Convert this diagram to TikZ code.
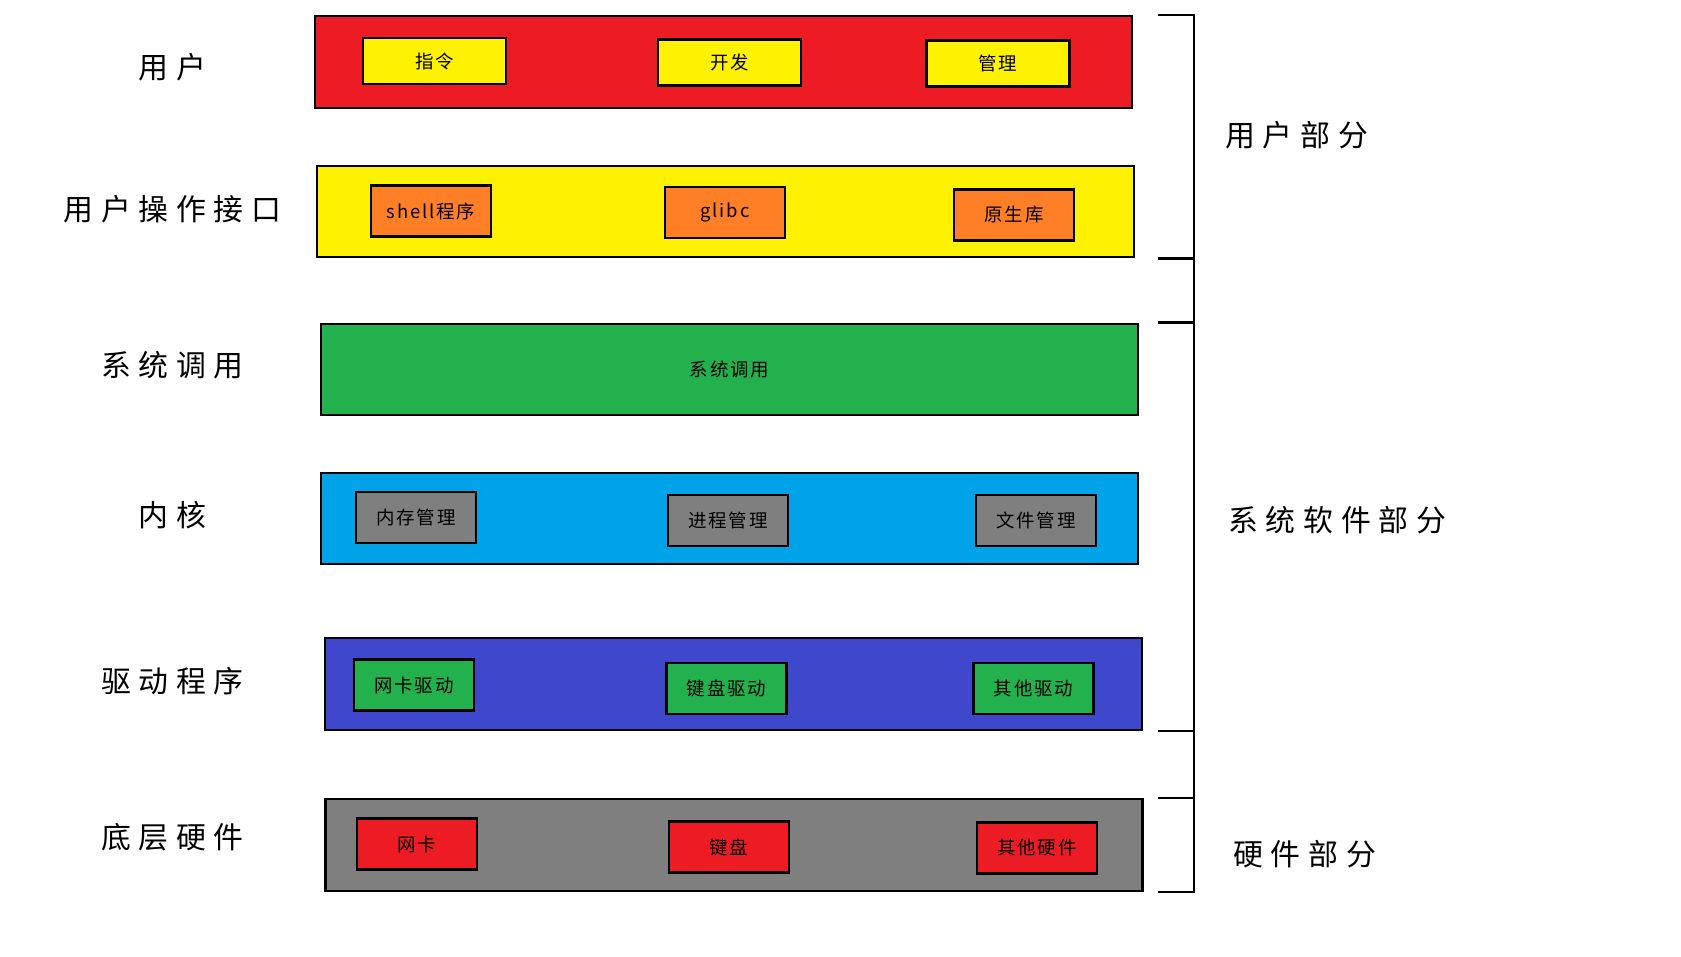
\documentclass[tikz,border=0pt]{standalone}
\usepackage{fontspec}
\setmainfont{Noto Sans CJK SC}
\newfontfamily\bigfont[LetterSpace=26]{Noto Sans CJK SC}
\newfontfamily\boxfont[LetterSpace=10]{Noto Sans CJK SC}
\usepackage{tikz}
\usetikzlibrary{calc,positioning}
\usepackage{xcolor}
\definecolor{layred}{HTML}{ED1C24}
\definecolor{layyellow}{HTML}{FFF200}
\definecolor{laygreen}{HTML}{22B14C}
\definecolor{layblue}{HTML}{00A2E8}
\definecolor{layindigo}{HTML}{3F48CC}
\definecolor{laygray}{HTML}{7F7F7F}
\definecolor{layorange}{HTML}{FF7F27}

\begin{document}
\begin{tikzpicture}[
      every node/.style={text=black},
      layer/.style={draw=black, line width=1.4pt, minimum width=16.34cm,
                    minimum height=1.83cm, font=\boxfont\fontsize{10.5}{12}\selectfont},
      item/.style={draw=black, line width=1.6pt, minimum width=2.4cm,
                   minimum height=1.02cm, font=\boxfont\fontsize{10.5}{12}\selectfont},
      side/.style={inner sep=0pt, font=\bigfont\fontsize{17}{20}\selectfont},
      brk/.style={line width=1.2pt}
    ]
      \useasboundingbox (0,0) rectangle (33.62,-19.14);

      % Schichten mit Beschriftung links
      \foreach \nm/\x/\y/\ly/\clr/\lbl/\txt in {
        yh/14.47/-1.24/-1.34/layred/用户/{},
        jk/14.51/-4.23/-4.18/layyellow/用户操作接口/{},
        xt/14.59/-7.39/-7.30/laygreen/系统调用/系统调用,
        nh/14.59/-10.37/-10.30/layblue/内核/{},
        qd/14.67/-13.68/-13.62/layindigo/驱动程序/{},
        dc/14.68/-16.90/-16.74/laygray/底层硬件/{}%
      }{
        \node[layer, fill=\clr] (\nm) at (\x,\y) {\txt};
        \node[side] (\nm-l) at (3.45,\ly) {\lbl};
      }

      % erste Reihe (etwas breiter)
      \foreach \nm/\x/\y/\txt in {
        zl/8.69/-1.22/指令,
        kf/14.59/-1.25/开发,
        gl/19.96/-1.27/管理%
      }{
        \node[item, fill=layyellow, minimum width=2.86cm, minimum height=0.92cm]
          (\nm) at (\x,\y) {\txt};
      }

      % restliche Kästen
      \foreach \nm/\x/\y/\clr/\txt in {
        sh/8.62/-4.22/layorange/shell程序,
        gc/14.50/-4.25/layorange/glibc,
        ys/20.28/-4.30/layorange/原生库,
        nc/8.32/-10.35/laygray/内存管理,
        jc/14.56/-10.41/laygray/进程管理,
        wj/20.72/-10.41/laygray/文件管理,
        wq/8.28/-13.70/laygreen/网卡驱动,
        jq/14.53/-13.77/laygreen/键盘驱动,
        qq/20.67/-13.77/laygreen/其他驱动,
        wk/8.34/-16.88/layred/网卡,
        jp/14.58/-16.94/layred/键盘,
        qy/20.74/-16.96/layred/其他硬件%
      }{
        \node[item, fill=\clr] (\nm) at (\x,\y) {\txt};
      }

      % Klammern rechts
      \coordinate (tk) at (23.16,0);
      \coordinate (vx) at (23.88,0);
      \draw[brk] (tk |- yh.north) -- (vx |- yh.north) -- (vx |- dc.south) -- (tk |- dc.south);
      \foreach \a in {jk.south, xt.north, qd.south, dc.north}
        \draw[brk] (tk |- \a) -- (vx |- \a);

      \node[side, anchor=west] (yhbf) at (24.50,-2.70) {用户部分};
      \node[side, anchor=west] (xtbf) at (24.56,-10.40) {系统软件部分};
      \node[side, anchor=west] (yjbf) at (24.66,-17.08) {硬件部分};
    \end{tikzpicture}
\end{document}
